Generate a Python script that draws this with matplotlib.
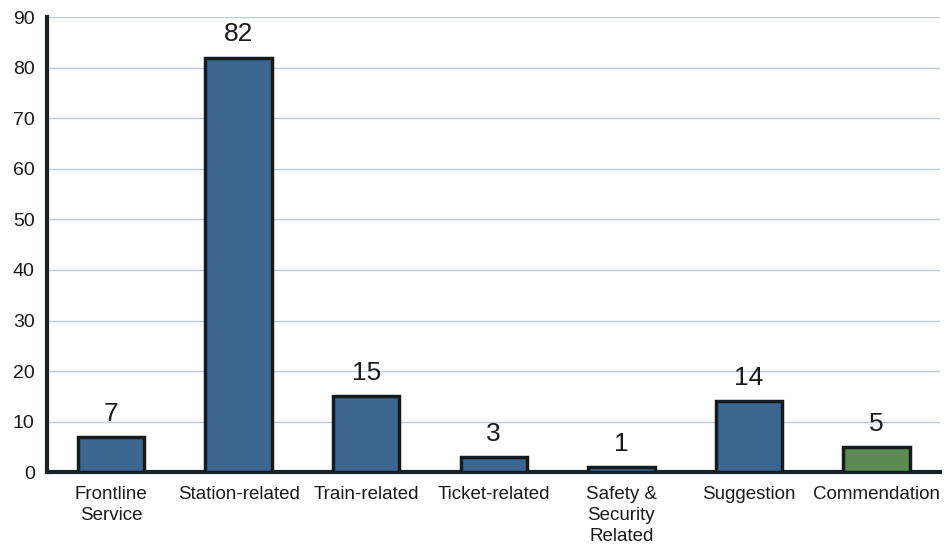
import matplotlib.pyplot as plt
import numpy as np

plt.rcParams['font.family'] = ['Liberation Sans', 'DejaVu Sans']

categories = ['Frontline\nService', 'Station-related', 'Train-related', 'Ticket-related',
              'Safety &\nSecurity\nRelated', 'Suggestion', 'Commendation']
values = [7, 82, 15, 3, 1, 14, 5]
colors = ['#3d6690'] * 6 + ['#5b8a52']

fig = plt.figure(figsize=(9.45, 5.53), dpi=100)
ax = fig.add_axes([0.05, 0.146, 0.945, 0.823])

x = np.arange(len(categories))
ax.bar(x, values, width=0.52, color=colors, edgecolor='#161c1e', linewidth=2.5, zorder=3)

for xi, v in zip(x, values):
    ax.annotate(str(v), (xi, v), xytext=(0, 8), textcoords='offset points',
                ha='center', va='bottom', fontsize=19, color='#1a1a1a')

ax.set_xlim(-0.5, len(categories) - 0.5)
ax.set_ylim(0, 90)
ax.set_yticks(np.arange(0, 91, 10))
ax.set_xticks(x)
ax.set_xticklabels(categories, fontsize=13.5, color='#1a1a1a', linespacing=1.3)
ax.tick_params(axis='y', length=0, pad=9, labelsize=14, labelcolor='#1a1a1a')
ax.tick_params(axis='x', length=0, pad=10)

ax.grid(axis='y', color='#c3c8d6', linewidth=1.0, zorder=0)
for side in ['top', 'right']:
    ax.spines[side].set_visible(False)
ax.spines['left'].set_linewidth(3)
ax.spines['left'].set_color('#1c2224')
ax.spines['bottom'].set_linewidth(3)
ax.spines['bottom'].set_color('#1c2224')

fig.savefig('out.png', dpi=100)
